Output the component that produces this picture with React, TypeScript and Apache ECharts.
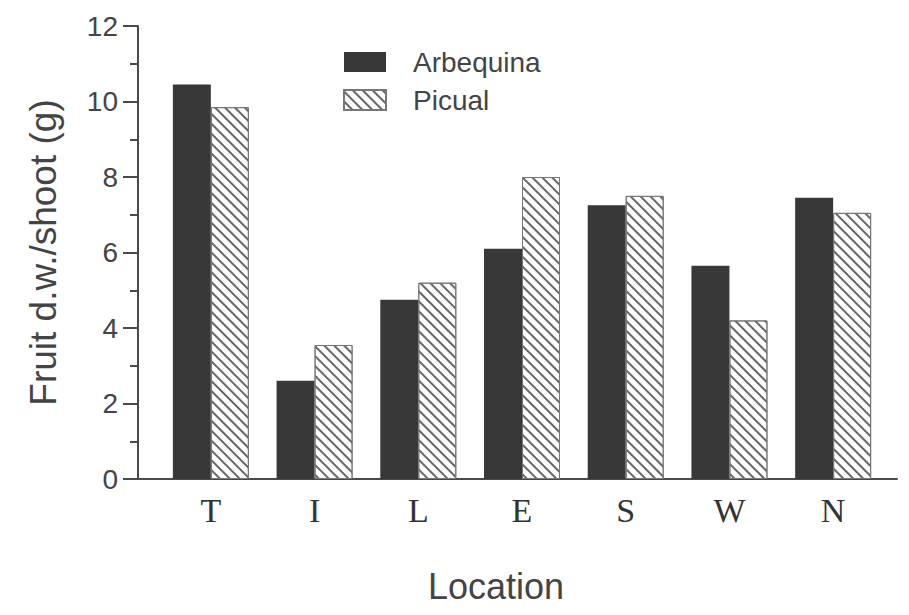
import React, { useEffect, useRef } from "react";
import * as echarts from "echarts";

const categories = ["T", "I", "L", "E", "S", "W", "N"];
const arbequina = [10.45, 2.6, 4.75, 6.1, 7.25, 5.65, 7.45];
const picual = [9.85, 3.55, 5.2, 8.0, 7.5, 4.2, 7.05];
const seriesNames = ["Arbequina", "Picual"];
const yTitle = "Fruit d.w./shoot (g)";
const xTitle = "Location";

export default function App() {
  const ref = useRef<HTMLDivElement>(null);
  useEffect(() => {
    if (!ref.current) return;
    const chart = echarts.init(ref.current, null, { renderer: "svg" });
    const axisColor = "#4a4a4a";
    const textColor = "#444";
    const sans = "Liberation Sans, Arial, sans-serif";
    const top = 26;
    const bottom = 136;
    chart.setOption({
      animation: false,
      backgroundColor: "#ffffff",
      title: {
        text: xTitle,
        left: 428,
        top: 568,
        padding: 0,
        textStyle: { fontFamily: sans, fontSize: 36, fontWeight: "normal", color: textColor },
      },
      legend: {
        orient: "vertical",
        left: 343,
        top: 48,
        padding: 0,
        itemWidth: 42,
        itemHeight: 20,
        itemGap: 10,
        icon: "rect",
        data: seriesNames,
        textStyle: { fontFamily: sans, fontSize: 28, color: textColor, padding: [0, 0, 0, 22] },
      },
      grid: [
        { left: 159, right: 24, top, bottom },
        { left: 138, right: 12, top, bottom },
      ],
      xAxis: [
        {
          type: "category",
          gridIndex: 0,
          data: categories,
          axisLine: { show: false },
          axisTick: { show: false },
          axisLabel: {
            margin: 14,
            fontFamily: "Liberation Serif, Times New Roman, serif",
            fontSize: 34,
            color: "#333",
          },
        },
        {
          type: "value",
          gridIndex: 1,
          min: 0,
          max: 1,
          axisLine: { show: true, lineStyle: { color: axisColor, width: 2 } },
          axisTick: { show: false },
          axisLabel: { show: false },
          splitLine: { show: false },
        },
      ],
      yAxis: [
        { type: "value", gridIndex: 0, min: 0, max: 12, show: false },
        {
          type: "value",
          gridIndex: 1,
          min: 0,
          max: 12,
          interval: 2,
          name: yTitle,
          nameLocation: "middle",
          nameGap: 76,
          nameTextStyle: { fontFamily: sans, fontSize: 37, color: textColor },
          axisLine: { show: true, lineStyle: { color: axisColor, width: 2 } },
          axisTick: { show: true, length: 15, lineStyle: { color: axisColor, width: 2 } },
          minorTick: { show: true, splitNumber: 2, length: 8, lineStyle: { color: axisColor, width: 2 } },
          axisLabel: { margin: 20, fontFamily: sans, fontSize: 28, color: textColor },
          splitLine: { show: false },
        },
      ],
      series: [
        {
          name: seriesNames[0],
          type: "bar",
          xAxisIndex: 0,
          yAxisIndex: 0,
          data: arbequina,
          barWidth: 38,
          barGap: "0%",
          itemStyle: { color: "#383838" },
        },
        {
          name: seriesNames[1],
          type: "bar",
          xAxisIndex: 0,
          yAxisIndex: 0,
          data: picual,
          barWidth: 38,
          barGap: "0%",
          itemStyle: {
            color: "#ffffff",
            borderColor: "#777",
            borderWidth: 1,
            decal: {
              symbol: "rect",
              symbolSize: 1,
              color: "#666",
              dashArrayX: [1, 0],
              dashArrayY: [2, 5],
              rotation: Math.PI / 4,
            },
          },
        },
      ],
    });
    return () => chart.dispose();
  }, []);
  return (
    <div
      ref={ref}
      style={{ position: "fixed", left: 0, top: 0, width: 909, height: 615 }}
    />
  );
}
